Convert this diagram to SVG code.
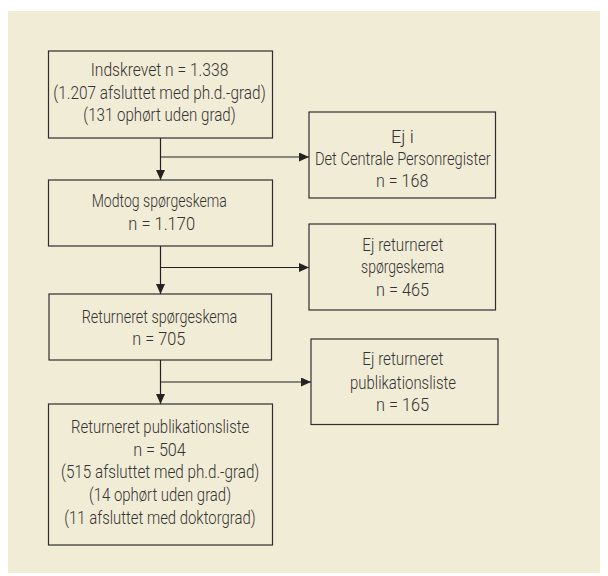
<svg xmlns="http://www.w3.org/2000/svg" width="608" height="576" viewBox="0 0 608 576">
<style>
.box{fill:none;stroke:#2e2e2e;stroke-width:1.2}
.t{font-family:Roboto,"Liberation Sans",sans-serif;font-size:18px;font-weight:300;fill:#333;text-anchor:middle}
.c{fill:none;stroke:#222;stroke-width:1.2}
</style>
<defs>
<marker id="ah" viewBox="0 0 10 9" refX="10" refY="4.5" markerWidth="10" markerHeight="9" markerUnits="userSpaceOnUse" orient="auto">
<path d="M0,0 L10,4.5 L0,9 Z" fill="#222"/>
</marker>
</defs>
<rect x="0" y="0" width="608" height="576" fill="#ffffff"/>
<rect x="8" y="11" width="592" height="562" fill="#f1ecd6"/>
<g id="connectors">
<line class="c" x1="160.5" y1="138" x2="160.5" y2="180" marker-end="url(#ah)"/>
<line class="c" x1="160.5" y1="157" x2="309" y2="157" marker-end="url(#ah)"/>
<line class="c" x1="160.5" y1="246" x2="160.5" y2="294" marker-end="url(#ah)"/>
<line class="c" x1="160.5" y1="267.5" x2="309" y2="267.5" marker-end="url(#ah)"/>
<line class="c" x1="160.5" y1="360" x2="160.5" y2="404" marker-end="url(#ah)"/>
<line class="c" x1="160.5" y1="382" x2="311" y2="382" marker-end="url(#ah)"/>
</g>
<g id="n1">
<rect class="box" x="48.5" y="51" width="224" height="87"/>
<text class="t" x="159.5" y="76" textLength="137.7" lengthAdjust="spacingAndGlyphs">Indskrevet n = 1.338</text>
<text class="t" x="159.5" y="98.5" textLength="212.3" lengthAdjust="spacingAndGlyphs">(1.207 afsluttet med ph.d.-grad)</text>
<text class="t" x="159.5" y="121" textLength="152.3" lengthAdjust="spacingAndGlyphs">(131 ophørt uden grad)</text>
</g>
<g id="r1">
<rect class="box" x="309" y="112" width="186.5" height="86"/>
<text class="t" x="402.5" y="143">Ej i</text>
<text class="t" x="402.8" y="164.5" textLength="175.7" lengthAdjust="spacingAndGlyphs">Det Centrale Personregister</text>
<text class="t" x="402.2" y="186.5" textLength="52.3" lengthAdjust="spacingAndGlyphs">n = 168</text>
</g>
<g id="n2">
<rect class="box" x="48.5" y="180" width="224" height="66"/>
<text class="t" x="159.2" y="207" textLength="135" lengthAdjust="spacingAndGlyphs">Modtog spørgeskema</text>
<text class="t" x="161.7" y="229.5" textLength="66.7" lengthAdjust="spacingAndGlyphs">n = 1.170</text>
</g>
<g id="r2">
<rect class="box" x="309" y="224" width="186.5" height="86"/>
<text class="t" x="402.8" y="250.5" textLength="81" lengthAdjust="spacingAndGlyphs">Ej returneret</text>
<text class="t" x="402.7" y="273" textLength="83.3" lengthAdjust="spacingAndGlyphs">spørgeskema</text>
<text class="t" x="402.5" y="295.5" textLength="53" lengthAdjust="spacingAndGlyphs">n = 465</text>
</g>
<g id="n3">
<rect class="box" x="49" y="294" width="222.5" height="66"/>
<text class="t" x="159.5" y="323" textLength="155.7" lengthAdjust="spacingAndGlyphs">Returneret spørgeskema</text>
<text class="t" x="158.8" y="344.5" textLength="53" lengthAdjust="spacingAndGlyphs">n = 705</text>
</g>
<g id="r3">
<rect class="box" x="311" y="339" width="187" height="85.5"/>
<text class="t" x="402.8" y="365" textLength="81" lengthAdjust="spacingAndGlyphs">Ej returneret</text>
<text class="t" x="403" y="388.5" textLength="106" lengthAdjust="spacingAndGlyphs">publikationsliste</text>
<text class="t" x="402.5" y="410.5" textLength="53" lengthAdjust="spacingAndGlyphs">n = 165</text>
</g>
<g id="n4">
<rect class="box" x="48.5" y="404" width="224" height="141"/>
<text class="t" x="160.2" y="433" textLength="178.3" lengthAdjust="spacingAndGlyphs">Returneret publikationsliste</text>
<text class="t" x="159.5" y="455.5" textLength="52.7" lengthAdjust="spacingAndGlyphs">n = 504</text>
<text class="t" x="160.2" y="478" textLength="198.3" lengthAdjust="spacingAndGlyphs">(515 afsluttet med ph.d.-grad)</text>
<text class="t" x="160" y="501" textLength="142" lengthAdjust="spacingAndGlyphs">(14 ophørt uden grad)</text>
<text class="t" x="160" y="523.5" textLength="191.3" lengthAdjust="spacingAndGlyphs">(11 afsluttet med doktorgrad)</text>
</g>
</svg>
